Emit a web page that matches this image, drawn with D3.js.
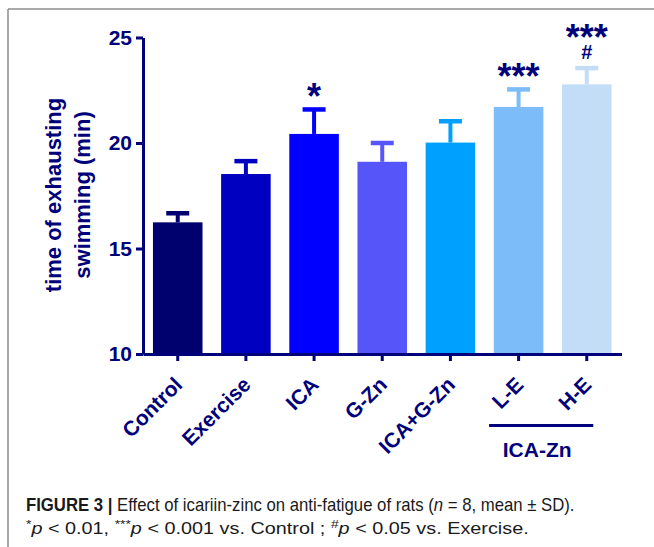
<!DOCTYPE html>
<html>
<head>
<meta charset="utf-8">
<script src="https://cdn.jsdelivr.net/npm/d3@7"></script>
<style>
  html, body { margin: 0; padding: 0; background: #fff; }
  svg { display: block; }
</style>
</head>
<body>
<svg id="chart" width="654" height="547"></svg>
<script>
// ---- data ----
const categories = ["Control", "Exercise", "ICA", "G-Zn", "ICA+G-Zn", "L-E", "H-E"];
const means = [16.24, 18.53, 20.43, 19.11, 20.02, 21.71, 22.78];
const sds = [0.43, 0.61, 1.16, 0.89, 1.01, 0.83, 0.77];
const sigControl = ["", "", "*", "", "", "***", "***"];
const sigExercise = ["", "", "", "", "", "", "#"];
const barColors = ["#00006e", "#0000c0", "#0000ff", "#5555fa", "#00a0ff", "#7bbcf9", "#c2ddf5"];
const yTicks = [10, 15, 20, 25];
const groupLabel = "ICA-Zn";
const groupMembers = ["L-E", "H-E"];
const yTitle = ["time of exhausting", "swimming (min)"];

const navy = "#00007a";
const font = "'Liberation Sans', Arial, sans-serif";

const svg = d3.select("#chart");

// frame lines
svg.append("line").attr("x1", 8).attr("x2", 654).attr("y1", 9).attr("y2", 9)
  .attr("stroke", "#8c8c8c").attr("stroke-width", 1.5);
svg.append("line").attr("x1", 8).attr("x2", 8).attr("y1", 9).attr("y2", 547)
  .attr("stroke", "#8c8c8c").attr("stroke-width", 1.5);

// scales
const x = d3.scaleBand().domain(categories).range([143, 621.5])
  .paddingInner(0.273).paddingOuter(0.146);
const y = d3.scaleLinear().domain([10, 25]).range([354, 37.5]);

const data = categories.map((c, i) => ({ c, m: means[i], sd: sds[i], col: barColors[i], s1: sigControl[i], s2: sigExercise[i] }));

// bars
svg.append("g").selectAll("rect").data(data).join("rect")
  .attr("x", d => x(d.c)).attr("width", x.bandwidth())
  .attr("y", d => y(d.m)).attr("height", d => y(10) - y(d.m))
  .attr("fill", d => d.col);

// error bars (upper)
const eb = svg.append("g");
eb.selectAll("line.stem").data(data).join("line").attr("class", "stem")
  .attr("x1", d => x(d.c) + x.bandwidth() / 2).attr("x2", d => x(d.c) + x.bandwidth() / 2)
  .attr("y1", d => y(d.m)).attr("y2", d => y(d.m + d.sd))
  .attr("stroke", d => d.col).attr("stroke-width", 4);
eb.selectAll("line.cap").data(data).join("line").attr("class", "cap")
  .attr("x1", d => x(d.c) + x.bandwidth() / 2 - 11.5).attr("x2", d => x(d.c) + x.bandwidth() / 2 + 11.5)
  .attr("y1", d => y(d.m + d.sd)).attr("y2", d => y(d.m + d.sd))
  .attr("stroke", d => d.col).attr("stroke-width", 4.5);

// y axis
const yAxis = svg.append("g").attr("transform", "translate(143,0)")
  .call(d3.axisLeft(y).tickValues(yTicks).tickSize(7).tickSizeOuter(0).tickPadding(4));
yAxis.select(".domain").attr("stroke", navy).attr("stroke-width", 3);
yAxis.selectAll(".tick line").attr("stroke", navy).attr("stroke-width", 3);
yAxis.selectAll(".tick text").attr("fill", navy)
  .style("font-family", font).style("font-weight", "bold").style("font-size", "21px");

// x axis
const xAxis = svg.append("g").attr("transform", "translate(0,354)")
  .call(d3.axisBottom(x).tickSize(7).tickSizeOuter(0));
xAxis.select(".domain").attr("stroke", navy).attr("stroke-width", 3);
xAxis.selectAll(".tick line").attr("stroke", navy).attr("stroke-width", 3);
xAxis.selectAll(".tick text").attr("fill", navy)
  .attr("x", 0).attr("y", 0).attr("dy", 0)
  .attr("transform", "translate(6,32) rotate(-45)")
  .style("text-anchor", "end")
  .style("font-family", font).style("font-weight", "bold").style("font-size", "21px");

// y title
const yt = svg.append("text").attr("transform", "translate(61,195) rotate(-90)")
  .attr("text-anchor", "middle").attr("fill", navy)
  .style("font-family", font).style("font-weight", "bold").style("font-size", "22px");
yt.selectAll("tspan").data(yTitle).join("tspan")
  .attr("x", 0).attr("dy", (d, i) => i === 0 ? 0 : 29).text(d => d);

// significance marks (stacked in one text element when two marks)
const cx = c => x(c) + x.bandwidth() / 2;
const sig = svg.append("g").selectAll("text").data(data.filter(d => d.s1)).join("text")
  .attr("x", d => cx(d.c)).attr("y", d => y(d.m + d.sd) - (d.s2 ? 18 : 0))
  .attr("text-anchor", "middle").attr("fill", navy)
  .style("font-family", font).style("font-weight", "bold");
sig.append("tspan").style("font-size", "36px").text(d => d.s1);
sig.filter(d => d.s2).append("tspan")
  .attr("x", d => cx(d.c)).attr("dy", 9)
  .style("font-size", "20px").text(d => d.s2);

// group bracket
const gx1 = cx(groupMembers[0]) - 29.5, gx2 = cx(groupMembers[1]) + 6.5;
svg.append("line").attr("x1", gx1).attr("x2", gx2).attr("y1", 425.5).attr("y2", 425.5)
  .attr("stroke", navy).attr("stroke-width", 3);
svg.append("text").attr("x", (gx1 + gx2) / 2 - 4).attr("y", 456.5)
  .attr("text-anchor", "middle").attr("fill", navy)
  .style("font-family", font).style("font-weight", "bold").style("font-size", "21px")
  .text(groupLabel);

// caption
const capFont = "'Liberation Sans', Arial, sans-serif";
function caption(parts, yb, size, targetW) {
  const g = svg.append("g");
  const t = g.append("text").attr("x", 0).attr("y", 0).attr("fill", "#1a1a1a")
    .style("font-family", capFont).style("font-size", size + "px");
  parts.forEach(p => {
    const ts = t.append("tspan").text(p.t);
    if (p.b) ts.style("font-weight", "bold");
    if (p.i) ts.style("font-style", "italic");
    if (p.sup) ts.attr("baseline-shift", "super").style("font-size", (size * 0.7) + "px");
  });
  const w = t.node().getComputedTextLength();
  g.attr("transform", `translate(26,${yb}) scale(${targetW / w},1)`);
}
caption([
  { t: "FIGURE 3", b: true }, { t: " | ", b: true },
  { t: "Effect of icariin-zinc on anti-fatigue of rats (" }, { t: "n", i: true },
  { t: " = 8, mean ± SD)." }
], 511, 17.5, 549);
caption([
  { t: "*", sup: true }, { t: "p", i: true }, { t: "  <  0.01, " },
  { t: "***", sup: true }, { t: "p", i: true }, { t: "  <  0.001 vs. Control ; " },
  { t: "#", sup: true }, { t: "p", i: true }, { t: "  <  0.05 vs.  Exercise." }
], 534, 16.5, 503);
</script>
</body>
</html>
